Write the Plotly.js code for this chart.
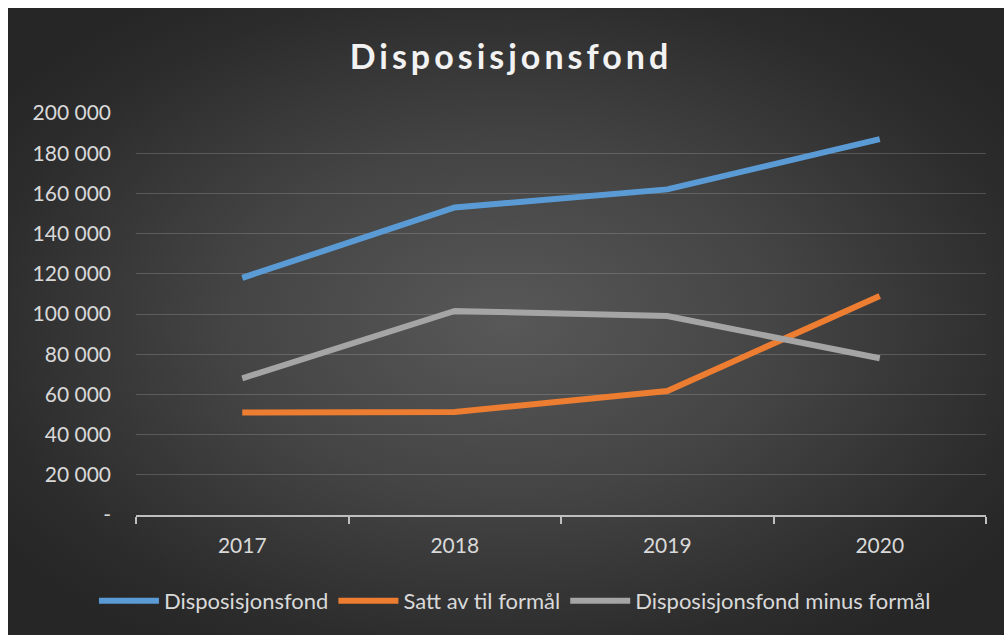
<!DOCTYPE html>
<html>
<head>
<meta charset="utf-8">
<script src="https://cdn.plot.ly/plotly-3.0.1.min.js"></script>
<style>
  html, body { margin: 0; padding: 0; background: #ffffff; }
  #chart {
    position: absolute; left: 8px; top: 8px; width: 996px; height: 627px;
    background: radial-gradient(ellipse 62% 62% at 50% 50%, #585858 0%, #444444 45%, #2c2c2c 85%, #262626 100%);
  }
  #chart .gtitle { letter-spacing: 4px; }
</style>
</head>
<body>
<div id="chart"></div>
<script>
const years = ['2017', '2018', '2019', '2020'];
const disposisjonsfond = [118000, 153000, 162000, 187000];
const sattAvTilFormal = [51000, 51200, 61700, 109000];
const fondMinusFormal = [68000, 101500, 99000, 78000];
const yTickVals = [0, 20000, 40000, 60000, 80000, 100000, 120000, 140000, 160000, 180000, 200000];
const yTickText = ['-', '20 000', '40 000', '60 000', '80 000', '100 000', '120 000', '140 000', '160 000', '180 000', '200 000'];

const font = '"Lato", "Open Sans", sans-serif';
const lw = 6;

const traces = [
  { x: years, y: disposisjonsfond, name: 'Disposisjonsfond', type: 'scatter', mode: 'lines',
    line: { color: '#5b9bd5', width: lw } },
  { x: years, y: sattAvTilFormal, name: 'Satt av til formål', type: 'scatter', mode: 'lines',
    line: { color: '#ed7d31', width: lw } },
  { x: years, y: fondMinusFormal, name: 'Disposisjonsfond minus formål', type: 'scatter', mode: 'lines',
    line: { color: '#a5a5a5', width: lw } }
];

const layout = {
  width: 996, height: 627,
  paper_bgcolor: 'rgba(0,0,0,0)',
  plot_bgcolor: 'rgba(0,0,0,0)',
  margin: { l: 128, r: 18, t: 105, b: 120 },
  font: { family: font, color: '#d9d9d9', size: 21 },
  title: {
    text: 'Disposisjonsfond',
    font: { family: font, size: 34, color: '#f2f2f2', weight: 'bold' },
    x: 0.505, xref: 'container', xanchor: 'center',
    y: 1 - 49 / 627, yref: 'container', yanchor: 'middle'
  },
  xaxis: {
    type: 'category',
    range: [-0.5, 3.5],
    tickson: 'boundaries',
    ticks: 'outside', ticklen: 7, tickwidth: 2, tickcolor: '#bfbfbf',
    showline: true, linecolor: '#bfbfbf', linewidth: 2,
    showgrid: false, zeroline: false,
    tickfont: { family: font, size: 21, color: '#d9d9d9' },
    ticklabelstandoff: 11,
    fixedrange: true
  },
  yaxis: {
    range: [0, 200000],
    tickvals: yTickVals, ticktext: yTickText,
    showgrid: true, gridcolor: 'rgba(190,190,190,0.25)', gridwidth: 1,
    zeroline: false, showline: false,
    ticks: '',
    ticklabelstandoff: 24,
    tickfont: { family: font, size: 21, color: '#d9d9d9' },
    fixedrange: true
  },
  showlegend: true,
  legend: {
    orientation: 'h',
    xref: 'container', x: 0.509, xanchor: 'center',
    yref: 'container', y: 1 - 593 / 627, yanchor: 'middle',
    font: { family: font, size: 22, color: '#d9d9d9' },
    bgcolor: 'rgba(0,0,0,0)',
    itemwidth: 60,
    tracegroupgap: 0
  }
};

Plotly.newPlot('chart', traces, layout, { displayModeBar: false, staticPlot: true });
</script>
</body>
</html>
